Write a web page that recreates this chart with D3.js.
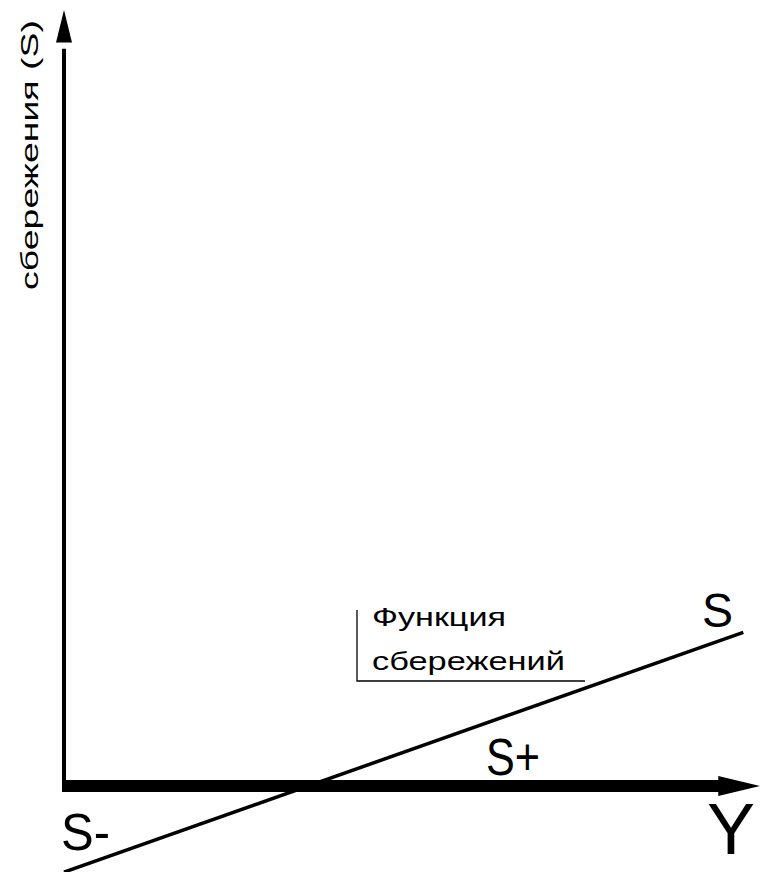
<!DOCTYPE html>
<html>
<head>
<meta charset="utf-8">
<script src="https://cdn.jsdelivr.net/npm/d3@7"></script>
<style>
  html, body { margin: 0; padding: 0; background: #fff; }
  text { font-family: "Liberation Sans", Arial, sans-serif; fill: #000; }
</style>
</head>
<body>
<svg></svg>
<script>
const width = 767;
const height = 872;

// income Y and savings S
const incomeValues = [0, 97.6];
const savingsValues = [-11.1, 19.8];
const axisLabels = ['сбережения (S)', 'Y'];
const curveLabels = ['S', 'S+', 'S-'];
const noteLines = ['Функция', 'сбережений'];

const svg = d3.select('svg').attr('width', width).attr('height', height);

const x = d3.scaleLinear().domain([0, 100]).range([64, 760]);
const y = d3.scaleLinear().domain([0, 100]).range([786, 10]);

const line = d3.line().x(d => x(d[0])).y(d => y(d[1]));
const pts = d3.zip(incomeValues, savingsValues);

// helper for narrow text
function label(x0, y0, txt, size, len) {
  return svg.append('text')
    .attr('x', x0).attr('y', y0)
    .attr('font-size', size)
    .attr('textLength', len)
    .attr('lengthAdjust', 'spacingAndGlyphs')
    .text(txt);
}

// savings function
svg.append('path')
  .attr('d', line(pts))
  .attr('fill', 'none')
  .attr('stroke', '#000')
  .attr('stroke-width', 3.5);

// vertical axis
svg.append('line')
  .attr('x1', x(0)).attr('x2', x(0))
  .attr('y1', y(0) + 6).attr('y2', y(95))
  .attr('stroke', '#000').attr('stroke-width', 4);
svg.append('path')
  .attr('d', `M${x(0)},${y(100)} L${x(0) - 8},${y(95.8)} L${x(0) + 8},${y(95.8)} Z`)
  .attr('fill', '#000');

// horizontal axis
svg.append('line')
  .attr('x1', x(0) - 2).attr('x2', x(95))
  .attr('y1', y(0)).attr('y2', y(0))
  .attr('stroke', '#000').attr('stroke-width', 12);
svg.append('path')
  .attr('d', `M${x(100)},${y(0)} L${x(94)},${y(0) - 10} L${x(94)},${y(0) + 10} Z`)
  .attr('fill', '#000');

// axis labels
svg.append('text')
  .attr('transform', `translate(38,290) rotate(-90)`)
  .attr('font-size', 24)
  .attr('textLength', 270)
  .attr('lengthAdjust', 'spacingAndGlyphs')
  .text(axisLabels[0]);
label(707, 854, axisLabels[1], 72, 48);

// curve labels
label(702, 627, curveLabels[0], 48, 31);
label(486, 775, curveLabels[1], 52, 54);
label(61, 850, curveLabels[2], 52, 49);

// note bracket
svg.append('path')
  .attr('d', 'M357,610 L357,681 L585,681')
  .attr('fill', 'none')
  .attr('stroke', '#000')
  .attr('stroke-width', 1.3);
svg.selectAll('text.note').data(noteLines)
  .enter().append('text')
  .attr('class', 'note')
  .attr('x', 372)
  .attr('y', (d, i) => 626 + i * 44)
  .attr('font-size', 26)
  .attr('textLength', (d, i) => [134, 193][i])
  .attr('lengthAdjust', 'spacingAndGlyphs')
  .text(d => d);
</script>
</body>
</html>
